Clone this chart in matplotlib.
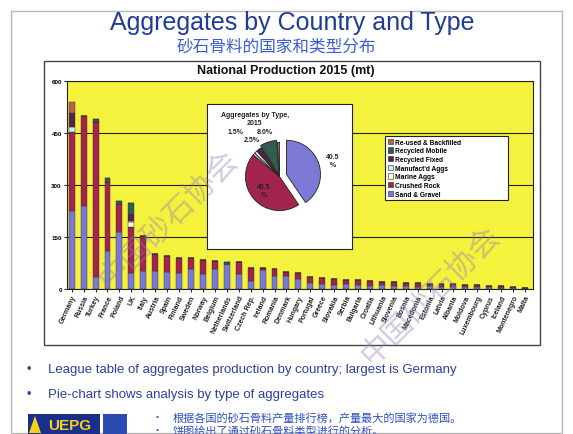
import matplotlib.pyplot as plt
from matplotlib.patches import Rectangle, Polygon, Patch
import numpy as np

plt.rcParams['font.family'] = ['Liberation Sans', 'Noto Sans CJK SC', 'DejaVu Sans']

W, H = 573, 435

# ---- data (mt) ----
countries = ['Germany', 'Russia', 'Turkey', 'France', 'Poland', 'UK', 'Italy', 'Austria',
             'Spain', 'Finland', 'Sweden', 'Norway', 'Belgium', 'Netherlands', 'Switzerland',
             'Czech Rep.', 'Ireland', 'Romania', 'Denmark', 'Hungary', 'Portugal', 'Greece',
             'Slovakia', 'Serbia', 'Bulgaria', 'Croatia', 'Lithuania', 'Slovenia', 'Bosnia',
             'Macedonia', 'Estonia', 'Latvia', 'Albania', 'Moldova', 'Luxembourg', 'Cyprus',
             'Iceland', 'Montenegro', 'Malta']
sand_gravel = [226, 240, 35, 110, 164, 45, 53, 53, 48, 47, 58, 43, 58, 72, 43, 24, 55, 38, 38, 30,
               16, 15, 12, 13, 11, 10, 11, 8, 8, 7, 8, 7, 6, 6, 5, 5, 4, 3, 2]
crushed_rock = [226, 260, 447, 200, 80, 135, 101, 48, 46, 42, 30, 41, 22, 0, 34, 36, 5, 20, 12, 16,
                18, 18, 17, 14, 14, 13, 10, 11, 9, 9, 7, 7, 7, 6, 6, 4, 4, 3, 2]
marine = [0, 0, 0, 0, 0, 12, 0, 0, 0, 0, 0, 0, 0, 0, 0, 0, 0, 0, 0, 0,
          0, 0, 0, 0, 0, 0, 0, 0, 0, 0, 0, 0, 0, 0, 0, 0, 0, 0, 0]
manufactured = [15, 0, 0, 0, 0, 5, 0, 0, 0, 0, 0, 0, 0, 0, 0, 0, 0, 0, 0, 0,
                0, 0, 0, 0, 0, 0, 0, 0, 0, 0, 0, 0, 0, 0, 0, 0, 0, 0, 0]
recycled_fixed = [40, 0, 0, 0, 0, 20, 0, 0, 0, 0, 0, 0, 0, 0, 0, 0, 0, 0, 0, 0,
                  0, 0, 0, 0, 0, 0, 0, 0, 0, 0, 0, 0, 0, 0, 0, 0, 0, 0, 0]
recycled_mobile = [0, 0, 8, 10, 9, 30, 0, 0, 0, 0, 0, 0, 0, 6, 0, 0, 0, 0, 0, 0,
                   0, 0, 0, 0, 0, 0, 0, 0, 0, 0, 0, 0, 0, 0, 0, 0, 0, 0, 0]
reused = [32, 0, 0, 0, 0, 0, 0, 0, 0, 0, 0, 0, 0, 0, 0, 0, 0, 0, 0, 0,
          0, 0, 0, 0, 0, 0, 0, 0, 0, 0, 0, 0, 0, 0, 0, 0, 0, 0, 0]

type_names = ['Sand & Gravel', 'Crushed Rock', 'Marine Aggs', "Manufact'd Aggs",
              'Recycled Fixed', 'Recycled Mobile', 'Re-used & Backfilled']
type_colors = ['#7b78d6', '#a3234f', '#ffffcc', '#c8f0f0', '#5b1f4f', '#2f5d4e', '#b5644a']
pie_share = [40.5, 45.5, 1.0, 1.5, 2.5, 8.0, 1.0]
yticks = [0, 150, 300, 450, 600]


def fx(x):
    return x / W


def fy(y):
    return 1 - y / H


fig = plt.figure(figsize=(W / 100, H / 100), dpi=100)
fig.patch.set_facecolor('white')

# slide frame and chart frame
fig.patches.append(Rectangle((fx(11), fy(434)), fx(551), 422 / H, transform=fig.transFigure,
                             fill=False, edgecolor='#b8b8b8', lw=1))
fig.patches.append(Rectangle((fx(44), fy(346)), fx(496), 284 / H, transform=fig.transFigure,
                             fill=False, edgecolor='#444444', lw=1))

fig.text(fx(292), fy(23), 'Aggregates by Country and Type', ha='center', va='center',
         fontsize=18, color='#1f3c96')
fig.text(fx(276), fy(47), '砂石骨料的国家和类型分布', ha='center', va='center',
         fontsize=12, color='#3a5fcd', family=['Noto Sans CJK SC', 'DejaVu Sans'])
fig.text(fx(286), fy(71), 'National Production 2015 (mt)', ha='center', va='center',
         fontsize=9, fontweight='bold', color='#111111')

# ---- stacked bars ----
ax = fig.add_axes([fx(66.7), fy(290), (533 - 66.7) / W, (290 - 82) / H])
ax.set_facecolor('#f4f23c')
x = np.arange(len(countries))
series = [sand_gravel, crushed_rock, marine, manufactured, recycled_fixed, recycled_mobile, reused]
bottom = np.zeros(len(countries))
for vals, col in zip(series, type_colors):
    ax.bar(x, vals, bottom=bottom, width=0.5, color=col, edgecolor='#333333', linewidth=0.3)
    bottom += np.array(vals)
ax.set_xlim(-0.42, len(countries) - 0.33)
ax.set_ylim(0, 600)
ax.set_yticks(yticks)
ax.set_yticklabels([str(v) for v in yticks], fontsize=4.5, fontweight='bold')
ax.set_xticks(x)
ax.set_xticklabels(countries, rotation=65, ha='right', rotation_mode='anchor',
                   fontsize=5, fontweight='bold', color='#222222')
ax.tick_params(axis='both', length=2, width=0.6, pad=1.5)
ax.yaxis.grid(True, color='#222222', lw=0.8)
ax.set_axisbelow(True)
for s in ax.spines.values():
    s.set_color('#222222')
    s.set_linewidth(0.8)

# ---- watermarks ----
for (wx, wy) in [(168, 220), (430, 296)]:
    fig.text(fx(wx), fy(wy), '中国砂石协会', rotation=45, ha='center', va='center',
             fontsize=22, color='#8a7ab8', alpha=0.4,
             family=['Noto Sans CJK SC', 'DejaVu Sans'], zorder=10)

# ---- pie inset ----
pax = fig.add_axes([fx(207), fy(250), 145 / W, 145 / H])
explode = [0.1, 0, 0, 0, 0, 0.03, 0]
wedges, _ = pax.pie(pie_share, colors=type_colors, radius=0.47, startangle=90,
                    counterclock=False, explode=explode,
                    wedgeprops=dict(edgecolor='#222222', linewidth=0.6))
# only the labels that are legible on the slide
label_r = [1.42, 0.62, None, 1.85, 1.35, 1.32, None]
for w, v, lr in zip(wedges, pie_share, label_r):
    if lr is None:
        continue
    ang = np.deg2rad((w.theta1 + w.theta2) / 2)
    cx, cy = w.center
    txt = f'{v:.1f}\n%' if v > 20 else f'{v:.1f}%'
    pax.text(cx + lr * 0.47 * np.cos(ang), cy + lr * 0.47 * np.sin(ang), txt,
             ha='center', va='center', fontsize=5, fontweight='bold', color='#222222')
pax.set_frame_on(True)
pax.set_facecolor('white')
pax.set_xlim(-1, 1)
pax.set_ylim(-1, 1)
pax.set_aspect('equal')
pax.set_xticks([])
pax.set_yticks([])
for s in pax.spines.values():
    s.set_visible(True)
    s.set_color('#222222')
    s.set_linewidth(0.8)
pax.text(0.33, 0.9, 'Aggregates by Type,\n2015', transform=pax.transAxes, ha='center',
         va='center', fontsize=5, fontweight='bold', color='#222222')

# ---- legend ----
handles = [Patch(facecolor=c, edgecolor='#222222', linewidth=0.4, label=n)
           for n, c in zip(type_names, type_colors)][::-1]
leg = fig.legend(handles=handles, loc='upper left', mode='expand',
                 bbox_to_anchor=(fx(385), fy(197), 123 / W, 60 / H), bbox_transform=fig.transFigure,
                 frameon=True, fancybox=False, edgecolor='#222222', facecolor='white',
                 framealpha=1, borderaxespad=0, borderpad=0.4, handlelength=0.8,
                 handleheight=0.8, handletextpad=0.3, labelspacing=0.25,
                 prop={'weight': 'bold', 'size': 4.8})
leg.get_frame().set_linewidth(0.8)

# ---- bullets ----
bullet_blue = '#2d3fa0'
fig.text(fx(29), fy(370), '•', ha='center', va='center', fontsize=9, color=bullet_blue)
fig.text(fx(48), fy(370), 'League table of aggregates production by country; largest is Germany',
         ha='left', va='center', fontsize=9.5, color=bullet_blue)
fig.text(fx(29), fy(395), '•', ha='center', va='center', fontsize=9, color=bullet_blue)
fig.text(fx(48), fy(395), 'Pie-chart shows analysis by type of aggregates',
         ha='left', va='center', fontsize=9.5, color=bullet_blue)

cjk = ['Noto Sans CJK SC', 'DejaVu Sans']
fig.text(fx(157), fy(418), '•', ha='center', va='center', fontsize=6, color='#3050c0')
fig.text(fx(173), fy(418), '根据各国的砂石骨料产量排行榜，产量最大的国家为德国。',
         ha='left', va='center', fontsize=8, color='#3050c0', family=cjk)
fig.text(fx(157), fy(431), '•', ha='center', va='center', fontsize=6, color='#3050c0')
fig.text(fx(173), fy(431), '饼图给出了通过砂石骨料类型进行的分析。',
         ha='left', va='center', fontsize=8, color='#3050c0', family=cjk)

# ---- UEPG logo ----
fig.patches.append(Rectangle((fx(28), fy(436)), 72 / W, 21 / H, transform=fig.transFigure,
                             facecolor='#1a2f8a', edgecolor='none'))
fig.patches.append(Polygon([(fx(29), fy(434)), (fx(35), fy(417)), (fx(41), fy(434))],
                           closed=True, transform=fig.transFigure, facecolor='#f2d21b',
                           edgecolor='none'))
fig.patches.append(Rectangle((fx(103), fy(436)), 24 / W, 21 / H, transform=fig.transFigure,
                             facecolor='#2a4bb0', edgecolor='none'))
fig.text(fx(70), fy(426), 'UEPG', ha='center', va='center', fontsize=11, fontweight='bold',
         color='#f2d21b')

fig.savefig('out.png', dpi=100)
